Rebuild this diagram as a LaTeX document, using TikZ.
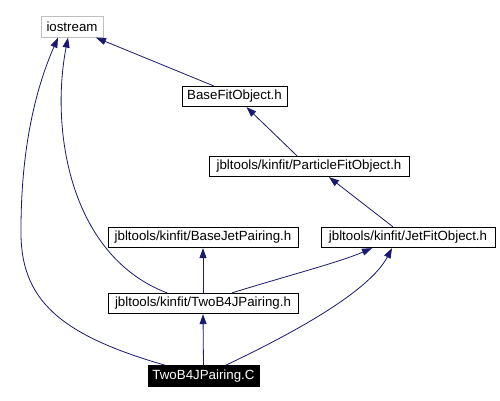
\documentclass[tikz,border=0pt]{standalone}
\usepackage{fontspec}
\setmainfont{Liberation Sans}
\usetikzlibrary{arrows.meta,calc}
\definecolor{edgeblue}{RGB}{25,25,112}
\definecolor{boxgray}{RGB}{191,191,191}
\tikzset{
  filebox/.style={draw=black, line width=0.8pt, fill=white, rectangle, inner sep=0pt,
    minimum height=20.5pt, font=\fontsize{13.3}{15}\selectfont, text=black},
  edge/.style={draw=edgeblue, line width=0.8pt, -{Triangle[length=10pt,width=7pt]}},
}
\begin{document}
\begin{tikzpicture}[x=1pt,y=-1pt]
\useasboundingbox (0,0) rectangle (500,401);
\fill[white] (0,0) rectangle (500,401);
\node[filebox, draw=boxgray, minimum width=62pt] (io) at (72,27) {iostream};
\node[filebox, minimum width=105pt] (bf) at (234.5,96.5) {BaseFitObject.h};
\node[filebox, minimum width=200pt] (pf) at (309,166.5) {jbltools/kinfit/ParticleFitObject.h};
\node[filebox, minimum width=190pt] (bj) at (203,237.5) {jbltools/kinfit/BaseJetPairing.h};
\node[filebox, minimum width=174pt] (jf) at (408,237.5) {jbltools/kinfit/JetFitObject.h};
\node[filebox, minimum width=190pt] (tb) at (203,303.5) {jbltools/kinfit/TwoB4JPairing.h};
\node[filebox, fill=black, text=white, minimum width=111pt] (c) at (203.5,376) {TwoB4JPairing.C};

\draw[edge] ([xshift=-21pt]bf.north) -- ([xshift=24pt]io.south);
\draw[edge] ([xshift=-12pt]pf.north) -- ([xshift=12pt]bf.south);
\draw[edge] ([xshift=-15pt]jf.north) -- ([xshift=20pt]pf.south);
\draw[edge] ([xshift=-36pt]tb.north) .. controls (70,256) and (50,130) .. ([xshift=-4pt]io.south);
\draw[edge] ([xshift=-38pt]c.north) .. controls (60,335) and (20,300) .. (21,230) .. controls (21,150) and (35,90) .. ([xshift=-14pt]io.south);
\draw[edge] (tb.north) -- (bj.south);
\draw[edge] (c.north) -- (tb.south);
\draw[edge] ([xshift=29pt]tb.north) .. controls (290,275) and (340,262) .. ([xshift=-36pt]jf.south);
\draw[edge] ([xshift=22pt]c.north) .. controls (300,330) and (370,290) .. ([xshift=-16pt]jf.south);
\end{tikzpicture}
\end{document}
